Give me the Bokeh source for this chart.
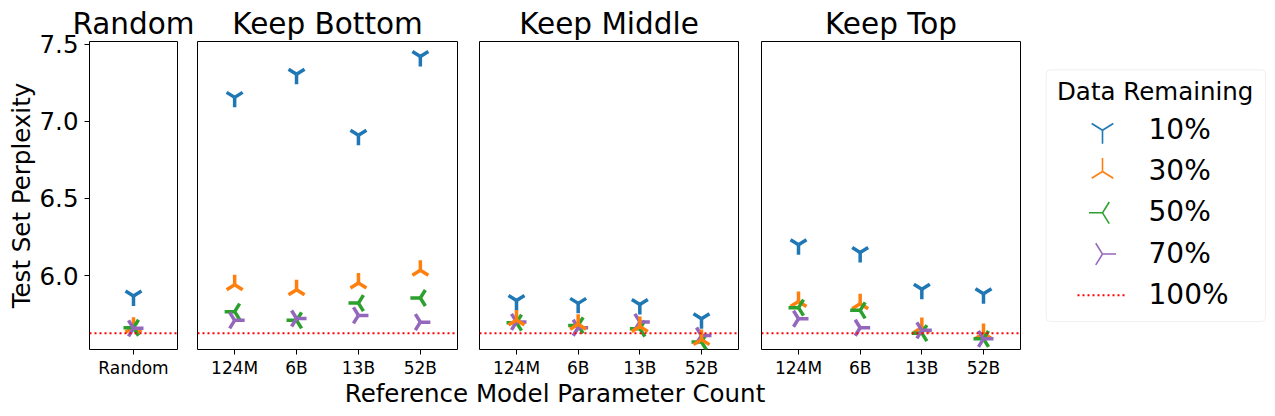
import numpy as np
from bokeh.plotting import figure
from bokeh.models import (FactorRange, Range1d, FixedTicker, PrintfTickFormatter, Span, Title,
                          BoxAnnotation)
from bokeh.core.properties import value
from bokeh.layouts import row, column
from bokeh.embed import file_html
from bokeh.resources import INLINE

# ---------------- data ----------------
remaining = ["10%", "30%", "50%", "70%"]
full_label = "100%"
random_cat = ["Random"]
model_sizes = ["124M", "6B", "13B", "52B"]
panel_titles = ["Random", "Keep Bottom", "Keep Middle", "Keep Top"]

random_ppl = [5.868, 5.665, 5.662, 5.658]          # 10%, 30%, 50%, 70%

bottom_10 = [7.155, 7.305, 6.910, 7.420]
bottom_30 = [5.940, 5.908, 5.952, 6.035]
bottom_50 = [5.766, 5.710, 5.822, 5.855]
bottom_70 = [5.710, 5.722, 5.742, 5.698]

middle_10 = [5.838, 5.820, 5.813, 5.720]
middle_30 = [5.712, 5.685, 5.670, 5.585]
middle_50 = [5.695, 5.677, 5.656, 5.570]
middle_70 = [5.700, 5.662, 5.700, 5.612]

top_10 = [6.200, 6.150, 5.912, 5.882]
top_30 = [5.832, 5.818, 5.664, 5.624]
top_50 = [5.792, 5.775, 5.627, 5.590]
top_70 = [5.720, 5.662, 5.645, 5.590]

full_data_ppl = 5.627

y_ticks = [6.0, 6.5, 7.0, 7.5]
y_limits = (5.521, 7.517)
y_label = "Test Set Perplexity"
x_label = "Reference Model Parameter Count"
legend_title = "Data Remaining"

colors = ["#1f77b4", "#ff7f0e", "#2ca02c", "#9467bd"]

# ---------------- styling / layout constants ----------------
FONT = "DejaVu Sans"
FRAME_H = 308
B_TOP = 41
B_BOTTOM = 29

# matplotlib tri markers '1','2','3','4' drawn as three arms from the centre
ARM = float(np.degrees(np.arctan2(0.5, 0.8)))
ARM_R = float(np.hypot(0.8, 0.5))
tri_arms = {
    "10%": [(-90.0, 1.0), (ARM, ARM_R), (180.0 - ARM, ARM_R)],
    "30%": [(90.0, 1.0), (-ARM, ARM_R), (-180.0 + ARM, ARM_R)],
    "50%": [(180.0, 1.0), (90.0 - ARM, ARM_R), (-(90.0 - ARM), ARM_R)],
    "70%": [(0.0, 1.0), (90.0 + ARM, ARM_R), (-(90.0 + ARM), ARM_R)],
}


def draw_tri(p, xs, ys, lab, color, L, lw):
    for ang, f in tri_arms[lab]:
        p.ray(x=xs, y=ys, length=L * f, angle=float(np.radians(ang)),
              length_units="screen", line_color=color, line_width=lw, line_cap="butt")


def make_panel(title, cats, series, frame_w, b_left, b_right, with_y, order=(0, 1, 2, 3)):
    p = figure(x_range=FactorRange(factors=cats, range_padding=0.1,
                                   range_padding_units="absolute", factor_padding=0),
               y_range=Range1d(*y_limits), frame_width=frame_w, frame_height=FRAME_H,
               min_border_left=b_left, min_border_right=b_right,
               min_border_top=B_TOP, min_border_bottom=B_BOTTOM,
               y_axis_location="left" if with_y else None,
               toolbar_location=None, output_backend="svg")
    p.title = Title(text=title, align="center", standoff=1, text_font=FONT,
                    text_font_size="29.5px", text_font_style="normal", text_color="black")
    p.outline_line_color = "black"
    p.outline_line_width = 1
    p.outline_line_alpha = 1
    p.xgrid.visible = False
    p.ygrid.visible = False
    xa = p.xaxis[0]
    xa.axis_line_color = None
    xa.major_tick_out = 5
    xa.major_tick_in = 0
    xa.major_tick_line_color = "black"
    xa.major_label_standoff = 3
    xa.major_label_text_font = FONT
    xa.major_label_text_font_size = "17px"
    xa.major_label_text_color = "black"
    if with_y:
        ya = p.yaxis[0]
        ya.ticker = FixedTicker(ticks=y_ticks)
        ya.formatter = PrintfTickFormatter(format="%.1f")
        ya.axis_line_color = None
        ya.major_tick_out = 5
        ya.major_tick_in = 0
        ya.minor_tick_line_color = None
        ya.major_tick_line_color = "black"
        ya.major_label_standoff = 6
        ya.major_label_text_font = FONT
        ya.major_label_text_font_size = "24.5px"
        ya.major_label_text_color = "black"
        ya.axis_label = y_label
        ya.axis_label_standoff = 1
        ya.axis_label_text_font = FONT
        ya.axis_label_text_font_size = "24.5px"
        ya.axis_label_text_font_style = "normal"
        ya.axis_label_text_color = "black"

    for k in order:
        draw_tri(p, cats, series[k], remaining[k], colors[k], 10, 3.5)

    p.add_layout(Span(location=full_data_ppl, dimension="width", line_color="red",
                      line_dash="2 3", line_width=2))
    return p


random_series = [[v] for v in random_ppl]
f1 = make_panel(panel_titles[0], random_cat, random_series, 88, 89, 18, True)
f2 = make_panel(panel_titles[1], model_sizes, [bottom_10, bottom_30, bottom_50, bottom_70], 260, 2, 11, False)
f3 = make_panel(panel_titles[2], model_sizes, [middle_10, middle_30, middle_50, middle_70], 259, 11, 11, False,
                order=(0, 2, 3, 1))
f4 = make_panel(panel_titles[3], model_sizes, [top_10, top_30, top_50, top_70], 259, 12, 9, False)

# ---------------- legend panel (1 data unit = 1 px, frame aligned with panels) ----------------
LW = 238
leg = figure(frame_width=LW, frame_height=FRAME_H, x_range=Range1d(0, LW), y_range=Range1d(0, FRAME_H),
             min_border_left=0, min_border_right=0, min_border_top=B_TOP,
             min_border_bottom=B_BOTTOM, x_axis_location=None, y_axis_location=None,
             toolbar_location=None, output_backend="svg")
leg.outline_line_color = None
leg.grid.visible = False


def to_y(page_y):
    """page pixel row -> legend-frame data y"""
    return B_TOP + FRAME_H - page_y


GLYPH_X0, GLYPH_W, LABEL_X = 48, 50, 119
FIRST_ITEM, ITEM_H = 129.8, 41.25     # page row of the first entry centre, entry pitch

leg.add_layout(BoxAnnotation(left=16.7, right=236, bottom=to_y(321), top=to_y(69.3),
                             fill_color="white", fill_alpha=0.8, line_color="#cccccc",
                             line_width=1, border_radius=4, level="underlay"))
leg.text(x=[125.7], y=[to_y(90.5)], text=[legend_title], text_align="center",
         text_baseline="middle", text_font=value(FONT), text_font_size=value("24.5px"),
         text_color="black")

labels = remaining + [full_label]
centres = [FIRST_ITEM + k * ITEM_H for k in range(len(labels))]
for k, lab in enumerate(remaining):
    draw_tri(leg, [GLYPH_X0 + GLYPH_W / 2], [to_y(centres[k])], lab, colors[k], 13.5, 1.6)
leg.line(x=[GLYPH_X0, GLYPH_X0 + GLYPH_W], y=[to_y(centres[-1])] * 2,
         line_color="red", line_dash="2 3", line_width=2)
leg.text(x=[LABEL_X] * len(labels), y=[to_y(c - 1) for c in centres], text=labels,
         text_align="left", text_baseline="middle", text_font=value(FONT),
         text_font_size=value("28px"), text_color="black")

# ---------------- shared x label ----------------
xl = figure(frame_width=931, frame_height=1, min_border_left=89, min_border_right=247,
            min_border_top=0, min_border_bottom=0, x_range=Range1d(0, 1), y_range=Range1d(0, 1),
            y_axis_location=None, toolbar_location=None, output_backend="svg")
xl.outline_line_color = None
xl.grid.visible = False
xa = xl.xaxis[0]
xa.ticker = FixedTicker(ticks=[])
xa.major_tick_out = 0
xa.major_tick_in = 0
xa.minor_tick_out = 0
xa.minor_tick_in = 0
xa.axis_line_color = None
xa.major_label_standoff = 0
xa.axis_label = x_label
xa.axis_label_standoff = -3
xa.axis_label_text_font = FONT
xa.axis_label_text_font_size = "24.5px"
xa.axis_label_text_font_style = "normal"
xa.axis_label_text_color = "black"

layout = column(row(f1, f2, f3, f4, leg), xl)
open("out.html", "w").write(file_html(layout, INLINE))
